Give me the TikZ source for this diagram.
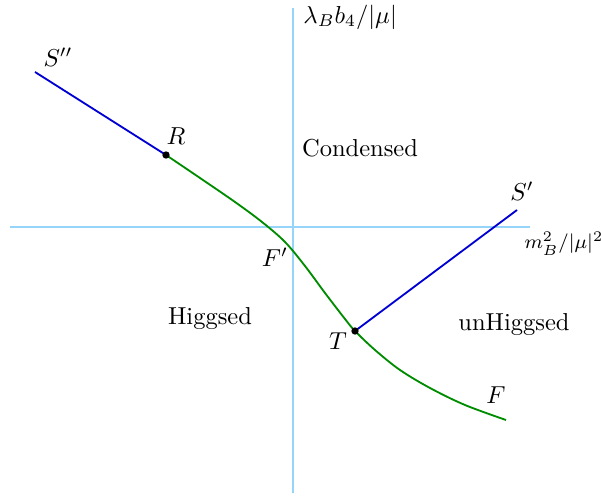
\documentclass[tikz,border=0pt]{standalone}
\usetikzlibrary{calc}
\definecolor{axiscol}{RGB}{150,212,250}
\definecolor{lineblue}{RGB}{0,0,210}
\definecolor{linegreen}{RGB}{0,140,0}
\begin{document}
\begin{tikzpicture}[x=0.408pt,y=-0.408pt,
  axis/.style={draw=axiscol,line width=0.55pt},
  bline/.style={draw=lineblue,line width=0.75pt},
  gline/.style={draw=linegreen,line width=0.75pt},
  dot/.style={circle,fill=black,inner sep=0pt,minimum size=3pt},
  lab/.style={inner sep=0pt}]
\useasboundingbox (0,0) rectangle (601,496);
% axes
\coordinate (yb) at (293,493);
\coordinate (yt) at (293,8);
\coordinate (xl) at (10,227);
\coordinate (xr) at (530,227);
\draw[axis] (yb) -- (yt);
\draw[axis] (xl) -- (xr);
\node[lab,anchor=west] (ylab) at (303,17) {$\lambda_B b_4/|\mu|$};
\node[lab,anchor=west,font=\footnotesize] (xlab) at (524,244) {$m_B^2/|\mu|^2$};
% points
\coordinate (Spp) at (35,72);
\coordinate (R) at (166,155);
\coordinate (T) at (355,331);
\coordinate (Sp) at (517,210);
\coordinate (F) at (506,420);
% curves
\draw[gline] plot[smooth,tension=0.55] coordinates {(166,155) (200,178) (235,202) (262,222) (285,242) (305,266) (325,293) (345,319) (355,331) (375,350) (400,370) (430,388) (465,405) (506,420)};
\draw[bline] (Spp) -- (R);
\draw[bline] (T) -- (Sp);
\node[dot] (Rdot) at (R) {};
\node[dot] (Tdot) at (T) {};
% labels
\node[lab] (lSpp) at (58,57) {$S''$};
\node[lab] (lR) at (176,136) {$R$};
\node[lab] (lSp) at (522,191) {$S'$};
\node[lab] (lFp) at (275,257) {$F'$};
\node[lab] (lT) at (338,341) {$T$};
\node[lab] (lF) at (496,395) {$F$};
\node[lab] (cond) at (360,148) {Condensed};
\node[lab] (higg) at (210,319) {Higgsed};
\node[lab] (unh) at (514,325) {unHiggsed};
\end{tikzpicture}
\end{document}
